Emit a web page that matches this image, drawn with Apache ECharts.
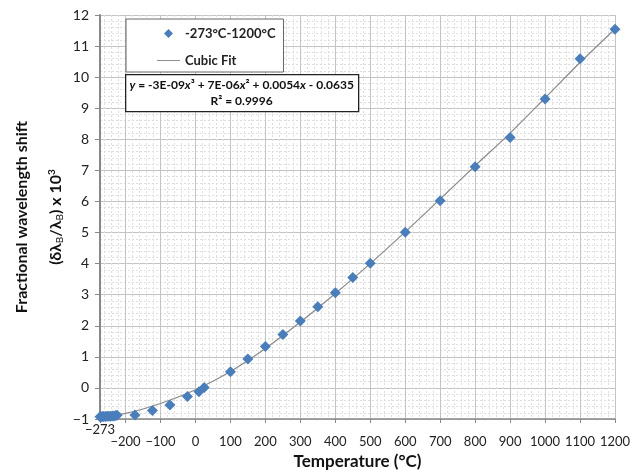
<!DOCTYPE html>
<html>
<head>
<meta charset="utf-8">
<script src="https://cdn.jsdelivr.net/npm/echarts@6/dist/echarts.min.js"></script>
<style>
  html, body { margin: 0; padding: 0; background: #fff; }
  #chart { width: 640px; height: 470px; }
</style>
</head>
<body>
<div id="chart"></div>
<script>
// measured points, temperature in deg C and shift x 10^3
var tempC = [-273, -270, -267, -263, -258, -253, -248, -243, -238, -233, -228, -224,
  -173, -123, -73, -23, 10, 25, 100, 150, 200, 250, 300, 350, 400, 450, 500,
  600, 700, 800, 900, 1000, 1100, 1200];
var shift = [-0.93, -0.93, -0.92, -0.92, -0.92, -0.91, -0.91, -0.91, -0.9, -0.9, -0.89, -0.88,
  -0.87, -0.73, -0.55, -0.28, -0.12, 0.01, 0.52, 0.93, 1.33, 1.72, 2.15, 2.61, 3.06, 3.55, 4.01,
  5.01, 6.02, 7.12, 8.06, 9.30, 10.59, 11.54];

// cubic fit curve
var fitT = [-273, -200, -100, 0, 100, 200, 300, 400, 500, 600, 700, 800, 900, 1000, 1100, 1200];
var fitV = [-0.92, -0.82, -0.5, -0.06, 0.53, 1.27, 2.12, 3.04, 4.0, 5.02, 6.08, 7.15, 8.2, 9.33, 10.47, 11.55];

var xMinLabel = [-273];
var seriesNames = ['-273°C-1200°C', 'Cubic Fit'];
var fitText = ['{i|y} = -3E-09{i|x}³ + 7E-06{i|x}² + 0.0054{i|x} - 0.0635', 'R² = 0.9996'];

var font = 'Lato';

var chart = echarts.init(document.getElementById('chart'));

var points = tempC.map(function (t, i) { return [t, shift[i]]; });
var fitLine = fitT.map(function (t, i) { return [t, fitV[i]]; });

function minus(v) { return String(v).replace('-', '\u2212'); }

var option = {
    animation: false,
    textStyle: { fontFamily: font },
    grid: { left: 100, right: 25, top: 15, bottom: 51, outerBoundsMode: 'none', containLabel: false },
    legend: {
        left: 126, top: 19,
        orient: 'vertical',
        data: [
            { name: seriesNames[0], icon: 'path://M5,0L10,5L5,10L0,5Z' },
            { name: seriesNames[1], icon: 'path://M0,0L24,0L24,1L0,1Z' }
        ],
        symbolKeepAspect: true,
        backgroundColor: '#fff',
        borderColor: '#666',
        borderWidth: 1,
        padding: [8, 8, 5, 31],
        itemGap: 14,
        itemWidth: 23,
        itemHeight: 9,
        z: 20,
        textStyle: { fontFamily: font, fontSize: 13, color: '#222', fontWeight: 'bold', width: 121 }
    },
    xAxis: [{
        type: 'value',
        min: -273, max: 1200,
        splitNumber: 15,
        name: 'Temperature (°C)',
        nameLocation: 'middle',
        nameGap: 31,
        nameTextStyle: { fontFamily: font, fontSize: 17, fontWeight: 'bold', color: '#111' },
        axisLine: { show: true, onZero: false, lineStyle: { color: '#888', width: 1.5 } },
        axisTick: { show: true, length: 4, lineStyle: { color: '#888' } },
        axisLabel: {
            margin: 16,
            interval: 0,
            fontSize: 13, color: '#222',
            formatter: function (v) {
                if (v === xMinLabel[0]) return '';
                return minus(v);
            }
        },
        splitLine: { show: true, lineStyle: { color: '#c4c4c4', width: 1 } },
        minorTick: { show: false, splitNumber: 5 },
        minorSplitLine: { show: true, lineStyle: { color: '#dedede', type: [2, 2] } }
    }, {
        // carries only the raised "-273" label at the left end
        type: 'value',
        position: 'bottom',
        min: -273, max: 1200,
        axisLine: { show: false, onZero: false },
        axisTick: { show: false },
        splitLine: { show: false },
        axisLabel: {
            margin: 4,
            fontSize: 13, color: '#222',
            customValues: xMinLabel,
            formatter: minus
        }
    }],
    yAxis: {
        type: 'value',
        min: -1, max: 12, interval: 1,
        name: '{b|Fractional wavelength shift}\n{b|(δλ}{sub|B}{b|/λ}{sub|B}{b|) x 10}{sup|3}',
        nameLocation: 'middle',
        nameRotate: 90,
        nameGap: 27,
        nameMoveOverlap: false,
        nameTextStyle: {
            lineHeight: 34,
            rich: {
                b: { fontFamily: font, fontSize: 16, fontWeight: 'bold', color: '#111', lineHeight: 34 },
                sub: { fontFamily: font, fontSize: 10, color: '#111', padding: [8, 0, 0, 0] },
                sup: { fontFamily: font, fontSize: 10, color: '#111', fontWeight: 'bold', padding: [0, 0, 8, 0] }
            }
        },
        axisLine: { show: true, onZero: false, lineStyle: { color: '#888', width: 2 } },
        axisTick: { show: true, length: 5, lineStyle: { color: '#888' } },
        axisLabel: { margin: 11, fontSize: 14, color: '#222', formatter: minus },
        splitLine: { show: true, lineStyle: { color: '#c4c4c4', width: 1 } },
        minorTick: { show: false, splitNumber: 5 },
        minorSplitLine: { show: true, lineStyle: { color: '#dedede', type: [2, 2] } }
    },
    graphic: [{
        type: 'group',
        left: 125, top: 74,
        z: 100,
        children: [{
            type: 'rect',
            z: 100,
            shape: { x: 0, y: 0, width: 233, height: 37 },
            style: { fill: '#fff', stroke: '#222', lineWidth: 1.3 }
        }, {
            type: 'text',
            z: 101,
            x: 116, y: 18,
            style: {
                text: fitText.join('\n'),
                align: 'center', verticalAlign: 'middle',
                fontFamily: font, fontSize: 12, fontWeight: 'bold', fill: '#111',
                lineHeight: 16,
                rich: {
                    i: { fontFamily: font, fontSize: 12, fontWeight: 'bold', fontStyle: 'italic', fill: '#111', lineHeight: 16 }
                }
            }
        }]
    }],
    series: [{
        name: seriesNames[1],
        type: 'line',
        data: fitLine,
        smooth: 0.3,
        symbol: 'none',
        z: 2,
        lineStyle: { color: '#8a8a8a', width: 1.2 },
        itemStyle: { color: '#8a8a8a' }
    }, {
        name: seriesNames[0],
        type: 'scatter',
        data: points,
        symbol: 'diamond',
        symbolSize: 11,
        z: 3,
        itemStyle: { color: '#4a7ebb', opacity: 1 }
    }]
};

chart.setOption(option);
</script>
</body>
</html>
